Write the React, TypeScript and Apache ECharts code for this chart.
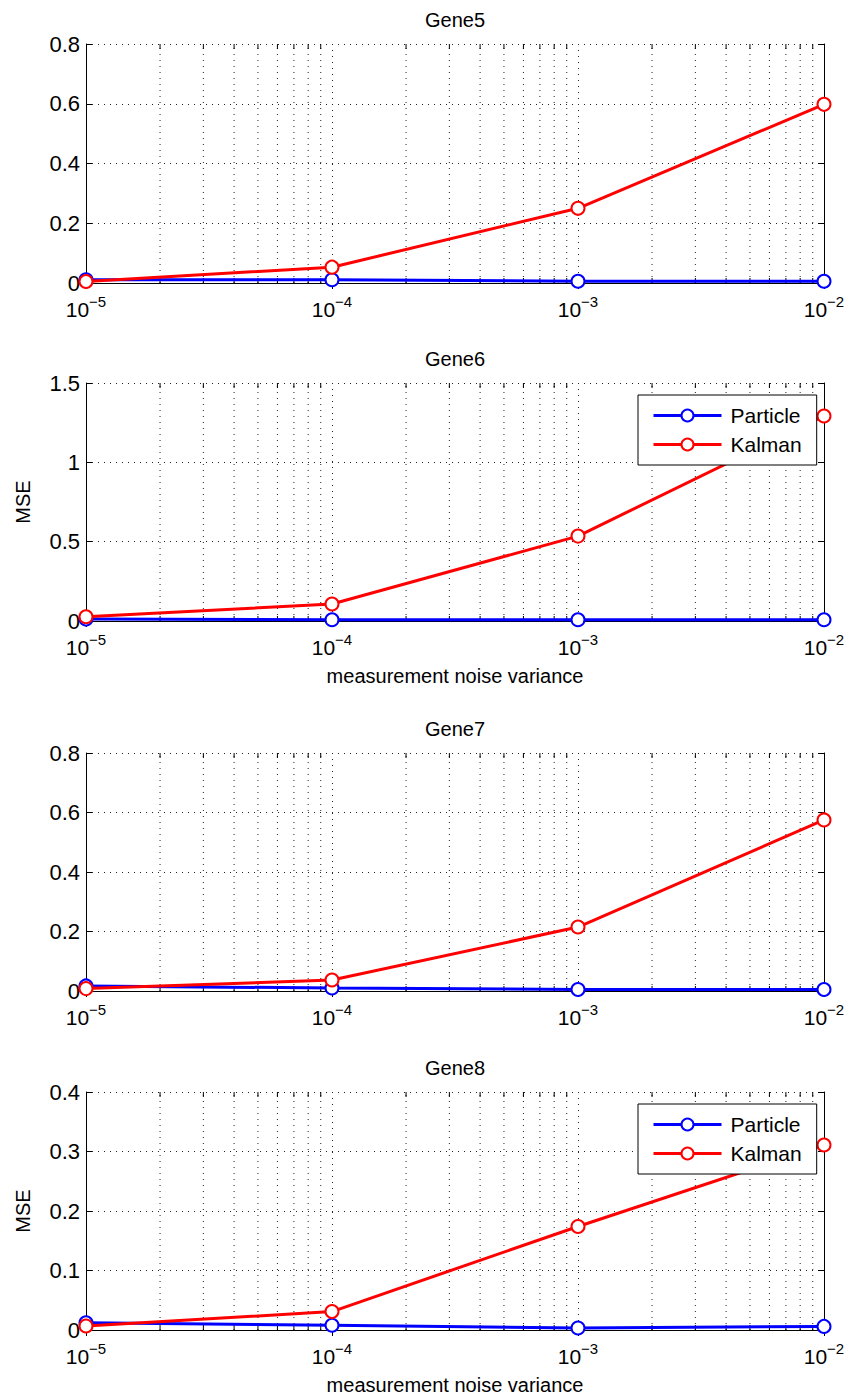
import React, { useEffect, useRef } from "react";
import * as echarts from "echarts";

const noiseVariance = [1e-5, 1e-4, 1e-3, 1e-2];
const titles = ["Gene5", "Gene6", "Gene7", "Gene8"];
const gene5Particle = [0.011, 0.011, 0.006, 0.006];
const gene5Kalman = [0.005, 0.053, 0.25, 0.598];
const gene6Particle = [0.012, 0.008, 0.008, 0.008];
const gene6Kalman = [0.027, 0.107, 0.535, 1.292];
const gene7Particle = [0.017, 0.01, 0.005, 0.005];
const gene7Kalman = [0.008, 0.037, 0.215, 0.575];
const gene8Particle = [0.012, 0.008, 0.0034, 0.006];
const gene8Kalman = [0.0067, 0.031, 0.174, 0.311];
const yMax = [0.8, 1.5, 0.8, 0.4];
const yInterval = [0.2, 0.5, 0.2, 0.1];
const minorMantissas = [2, 3, 4, 5, 6, 7, 8, 9];
const decades = [1e-5, 1e-4, 1e-3];

const particleSets = [gene5Particle, gene6Particle, gene7Particle, gene8Particle];
const kalmanSets = [gene5Kalman, gene6Kalman, gene7Kalman, gene8Kalman];

const FONT = '"Liberation Sans", Arial, Helvetica, sans-serif';
const grids = [
  { left: 86, top: 44, width: 738, height: 239 },
  { left: 86, top: 383, width: 738, height: 238 },
  { left: 86, top: 753, width: 738, height: 238 },
  { left: 86, top: 1092, width: 738, height: 238 },
];
const showXName = [false, true, false, true];
const showYName = [false, true, false, true];
const titleTops = [10, 349, 719, 1058];
const legendTops = [395, 1104];

const DOT: any = [1, 5];

export default function App() {
  const ref = useRef<HTMLDivElement>(null);
  useEffect(() => {
    if (!ref.current) return;
    const chart = echarts.init(ref.current, undefined, { renderer: "svg" });
    const minorX: number[] = [];
    decades.forEach((d) => minorMantissas.forEach((m) => minorX.push(m * d)));

    const xAxis: any[] = [];
    const yAxis: any[] = [];
    const series: any[] = [];
    const title: any[] = [];

    grids.forEach((g, i) => {
      title.push({
        text: titles[i],
        left: g.left + g.width / 2,
        top: titleTops[i],
        textAlign: "center",
        padding: 0,
        textStyle: { fontSize: 20, fontWeight: "normal", color: "#000", fontFamily: FONT },
      });
      xAxis.push({
        type: "log",
        logBase: 10,
        gridIndex: i,
        min: 1e-5,
        max: 1e-2,
        position: "bottom",
        name: showXName[i] ? "measurement noise variance" : "",
        nameLocation: "middle",
        nameGap: 45,
        nameTextStyle: { fontSize: 20, color: "#000", fontFamily: FONT },
        axisLine: { show: true, lineStyle: { color: "#000", width: 1 } },
        axisTick: { show: true, inside: true, length: 6, lineStyle: { color: "#000" } },
        minorTick: { show: false },
        splitLine: { show: true, lineStyle: { color: "#222", width: 1, type: DOT } },
        axisLabel: {
          margin: 11,
          formatter: (v: number) => {
            const e = Math.round(Math.log10(v));
            return `{b|10}{s|${e < 0 ? "\u2212" + Math.abs(e) : e}}`;
          },
          rich: {
            b: { fontSize: 21, color: "#000", fontFamily: FONT, padding: [5, 0, 0, 0], verticalAlign: "bottom" },
            s: { fontSize: 15, color: "#000", fontFamily: FONT, verticalAlign: "top" },
          },
        },
      });
      xAxis.push({
        type: "log",
        logBase: 10,
        gridIndex: i,
        min: 1e-5,
        max: 1e-2,
        position: "top",
        axisLine: { show: true, lineStyle: { color: "#000", width: 1 } },
        axisTick: { show: true, inside: true, length: 6, lineStyle: { color: "#000" } },
        axisLabel: { show: false },
        splitLine: { show: false },
      });
      yAxis.push({
        type: "value",
        gridIndex: i,
        min: 0,
        max: yMax[i],
        interval: yInterval[i],
        position: "left",
        name: showYName[i] ? "MSE" : "",
        nameLocation: "middle",
        nameGap: 53,
        nameRotate: 90,
        nameTextStyle: { fontSize: 20, color: "#000", fontFamily: FONT },
        axisLine: { show: true, lineStyle: { color: "#000", width: 1 } },
        axisTick: { show: true, inside: true, length: 6, lineStyle: { color: "#000" } },
        splitLine: { show: true, lineStyle: { color: "#222", width: 1, type: DOT } },
        axisLabel: { margin: 6, fontSize: 22, color: "#000", fontFamily: FONT },
      });
      yAxis.push({
        type: "value",
        gridIndex: i,
        min: 0,
        max: yMax[i],
        interval: yInterval[i],
        position: "right",
        axisLine: { show: true, lineStyle: { color: "#000", width: 1 } },
        axisTick: { show: true, inside: true, length: 6, lineStyle: { color: "#000" } },
        axisLabel: { show: false },
        splitLine: { show: false },
      });
      // minor log grid lines
      const minorData: any[] = [];
      minorX.forEach((x) => {
        minorData.push([x, 0], [x, yMax[i]], [x, "-"]);
      });
      series.push({
        type: "line",
        name: "minor-grid-" + i,
        xAxisIndex: 2 * i,
        yAxisIndex: 2 * i,
        data: minorData,
        symbol: "none",
        silent: true,
        connectNulls: false,
        lineStyle: { color: "#222", width: 1, type: DOT },
        z: 1,
      });
      // minor ticks on bottom and top
      const tickData: any[] = [];
      const tickLen = yMax[i] * (5 / g.height);
      minorX.forEach((x) => {
        tickData.push([x, 0], [x, tickLen], [x, "-"]);
        tickData.push([x, yMax[i] - tickLen], [x, yMax[i]], [x, "-"]);
      });
      series.push({
        type: "line",
        name: "minor-ticks-" + i,
        xAxisIndex: 2 * i,
        yAxisIndex: 2 * i,
        data: tickData,
        symbol: "none",
        silent: true,
        connectNulls: false,
        lineStyle: { color: "#000", width: 1 },
        z: 1,
      });
      series.push({
        type: "line",
        name: "Particle",
        xAxisIndex: 2 * i,
        yAxisIndex: 2 * i,
        data: noiseVariance.map((x, k) => [x, particleSets[i][k]]),
        symbol: "emptyCircle",
        symbolSize: 13,
        clip: false,
        color: "#0000ff",
        lineStyle: { color: "#0000ff", width: 3 },
        itemStyle: { color: "#0000ff", borderColor: "#0000ff", borderWidth: 2.5 },
        z: 2,
      });
      series.push({
        type: "line",
        name: "Kalman",
        xAxisIndex: 2 * i,
        yAxisIndex: 2 * i,
        data: noiseVariance.map((x, k) => [x, kalmanSets[i][k]]),
        symbol: "emptyCircle",
        symbolSize: 13,
        clip: false,
        color: "#ff0000",
        lineStyle: { color: "#ff0000", width: 3 },
        itemStyle: { color: "#ff0000", borderColor: "#ff0000", borderWidth: 2.5 },
        z: 3,
      });
    });

    const legend = legendTops.map((t) => ({
      orient: "vertical",
      left: 638,
      top: t,
      z: 20,
      padding: [10, 15, 10, 14],
      itemGap: 8,
      itemWidth: 68,
      itemHeight: 15,
      backgroundColor: "#fff",
      borderColor: "#000",
      borderWidth: 1,
      borderRadius: 0,
      data: ["Particle", "Kalman"],
      lineStyle: { width: 3 },
      itemStyle: { borderWidth: 2.5 },
      textStyle: { fontSize: 21, color: "#000", fontFamily: FONT, padding: [0, 0, 0, 4] },
    }));

    chart.setOption({
      animation: false,
      backgroundColor: "#fff",
      title,
      legend,
      grid: grids.map((g) => ({ ...g, show: false })),
      xAxis,
      yAxis,
      series,
    });
    return () => chart.dispose();
  }, []);
  return (
    <div
      ref={ref}
      style={{ position: "absolute", left: 0, top: 0, width: 850, height: 1399 }}
    />
  );
}
